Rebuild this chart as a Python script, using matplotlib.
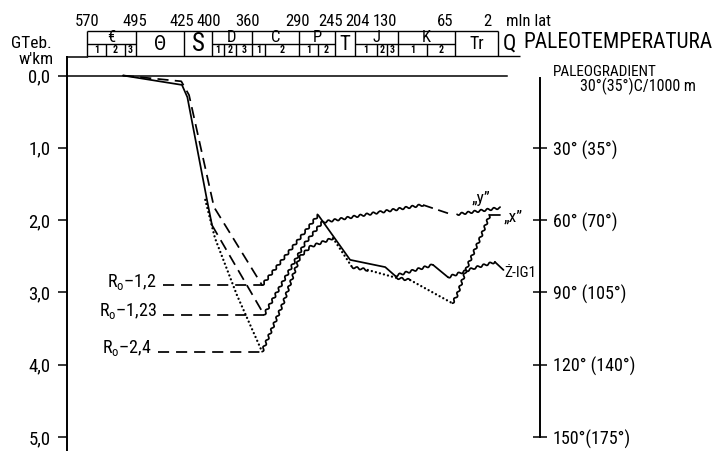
import numpy as np
import matplotlib
matplotlib.use("Agg")
import matplotlib.pyplot as plt
from matplotlib import font_manager as fm
from matplotlib.transforms import blended_transform_factory

# ---------------- data ----------------
boundary_ages = [570, 495, 425, 400, 360, 290, 245, 204, 130, 65, 2, 0]
age_labels = ["570", "495", "425", "400", "360", "290", "245", "204", "130", "65", "2"]
periods = ["€", "Θ", "S", "D", "C", "P", "T", "J", "K", "Tr", "Q"]
epoch_bounds = {
    "€": [570, 541, 512, 495],
    "D": [400, 388, 376, 360],
    "C": [360, 341, 290],
    "P": [290, 266, 245],
    "J": [204, 166, 149, 130],
    "K": [130, 97, 65],
}
depth_ticks = [0, 1, 2, 3, 4, 5]
depth_labels = ["0,0", "1,0", "2,0", "3,0", "4,0", "5,0"]
gradient = 30.0  # degC per km
grad_ticks = [30, 60, 90, 120, 150]
grad_labels = ["30° (35°)", "60° (70°)", "90° (105°)", "120° (140°)", "150°(175°)"]

ro_labels = ["1,2", "1,23", "2,4"]
ro_depth = [2.90, 3.31, 3.82]
ro_age = [345, 342, 345]

# burial (descending) branches: age [Ma], depth [km]
burial_solid_age = [515, 428, 422, 404.5, 400]
burial_solid_km = [0.0, 0.13, 0.30, 1.72, 2.07]
burial_a_age = [515, 429, 420.5, 398, 345]
burial_a_km = [0.0, 0.08, 0.27, 1.82, 2.90]
burial_b_age = [400, 342]
burial_b_km = [2.07, 3.31]
burial_c_age = [406, 397, 375, 345]
burial_c_km = [1.72, 2.25, 3.04, 3.82]

# Z-IG1 curve
z_wavy1_age = [345, 282.5, 266]
z_wavy1_km = [2.90, 2.16, 1.93]
z_solid1_age = [266, 214, 152, 135]
z_solid1_km = [1.93, 2.55, 2.65, 2.77]
z_wavy2_age = [135, 90]
z_wavy2_km = [2.77, 2.62]
z_solid2_age = [90, 73]
z_solid2_km = [2.62, 2.79]
z_wavy3_age = [73, 36, 6.4]
z_wavy3_km = [2.79, 2.66, 2.58]
z_solid3_age = [6.4, 1.5]
z_solid3_km = [2.58, 2.69]

# "y" curve
y_wavy1_age = [342, 282.5, 261, 161, 101.5]
y_wavy1_km = [3.31, 2.32, 2.03, 1.89, 1.79]
y_dash_age = [101.5, 67]
y_dash_km = [1.79, 1.93]
y_wavy2_age = [62, 1.8]
y_wavy2_km = [1.92, 1.83]

# "x" curve
x_wavy1_age = [345, 314, 289, 276, 247.5]
x_wavy1_km = [3.82, 3.16, 2.51, 2.37, 2.25]
x_dot1_age = [247.5, 210]
x_dot1_km = [2.25, 2.65]
x_wavy2_age = [210, 182]
x_wavy2_km = [2.65, 2.69]
x_dot2_age = [182, 132]
x_dot2_km = [2.69, 2.80]
x_wavy3_age = [132, 116]
x_wavy3_km = [2.80, 2.83]
x_dot3_age = [116, 68]
x_dot3_km = [2.83, 3.15]
x_wavy4_age = [68, 62, 46, 28, 14]
x_wavy4_km = [3.15, 3.04, 2.62, 2.25, 1.93]
x_solid_age = [14, 1.8]
x_solid_km = [1.93, 1.93]

# ---------------- layout / style ----------------
W, H = 717, 451
SCALE_AGE = [0, 2, 65, 130, 204, 245, 290, 360, 400, 425, 495, 570, 900]
SCALE_PX = [520, 498, 455, 398, 355, 335, 299, 252, 212, 184, 136, 87, -128.5]
SCALE_D = [520 - p for p in SCALE_PX]
KM0_PY, PX_PER_KM = 75.5, 72.3
AX_L, AX_R, AX_T = 67, 520, 57

names = {f.name for f in fm.fontManager.ttflist}
FONT = next((f for f in ["Liberation Sans Narrow", "Roboto Condensed", "DejaVu Sans"] if f in names), "DejaVu Sans")
plt.rcParams['font.family'] = [FONT, 'DejaVu Sans']
plt.rcParams['mathtext.fontset'] = 'custom'
plt.rcParams['mathtext.rm'] = FONT
plt.rcParams['lines.scale_dashes'] = False

LW = 1.25
K = 'black'


def fwd(a):
    return np.interp(a, SCALE_AGE, SCALE_D)


def inv(d):
    return np.interp(d, SCALE_D, SCALE_AGE)


def age_at_px(p):
    return float(inv(520 - p))


def km_at_py(py):
    return (py - KM0_PY) / PX_PER_KM


def fy(py):
    return 1 - py / H


def fx(px):
    return px / W


fig = plt.figure(figsize=(W / 100, H / 100), dpi=100)
ax = fig.add_axes([fx(AX_L), 0, (AX_R - AX_L) / W, (H - AX_T) / H])
ax.set_xscale('function', functions=(fwd, inv))
ax.set_xlim(age_at_px(AX_L), 0)
ax.set_ylim(km_at_py(H), km_at_py(AX_T))
ax.xaxis.set_major_locator(matplotlib.ticker.NullLocator())
ax.xaxis.set_minor_locator(matplotlib.ticker.NullLocator())
for s in ['right', 'bottom']:
    ax.spines[s].set_visible(False)
ax.spines['left'].set_linewidth(1.4)
ax.spines['top'].set_linewidth(1.1)
ax.spines['top'].set_bounds(570, age_at_px(AX_L))
ax.set_yticks(depth_ticks, labels=depth_labels)
ax.tick_params(axis='y', direction='out', length=6.5, width=1.1, pad=5.5, labelsize=13.5)
ax.patch.set_visible(False)

# zero line
ax.axhline(0, xmin=0, xmax=(507 - AX_L) / (AX_R - AX_L), color=K, lw=1.1)

# secondary (paleogradient) axis
sec = ax.secondary_yaxis((540 - AX_L) / (AX_R - AX_L),
                         functions=(lambda z: z * gradient, lambda t: t / gradient))
sec.set_yticks(grad_ticks, labels=grad_labels)
sec.tick_params(axis='y', direction='inout', length=10, width=1.1, pad=4, labelsize=13)
sec.spines['right'].set_linewidth(1.4)
sec.spines['right'].set_bounds(km_at_py(78) * gradient, grad_ticks[-1])


def line(xs, ys, kind):
    kw = dict(color=K, lw=LW, solid_capstyle='round', solid_joinstyle='round')
    if kind == 'dash':
        kw.update(ls=(0, (8, 4.5)))
    elif kind == 'dash2':
        kw.update(ls=(0, (7.5, 4)))
    elif kind == 'dot':
        kw.update(ls=(0, (0.01, 3.0)), dash_capstyle='round', lw=1.7)
    ln, = ax.plot(xs, ys, **kw)
    ln.set_clip_on(False)
    if kind == 'wavy':
        ln.set_sketch_params(1.1, 6.5, 1.0)
    return ln


line(burial_solid_age, burial_solid_km, 'solid')
line(burial_a_age, burial_a_km, 'dash')
line(burial_b_age, burial_b_km, 'dash')
line(burial_c_age, burial_c_km, 'dot')

line(z_wavy1_age, z_wavy1_km, 'wavy')
line(z_solid1_age, z_solid1_km, 'solid')
line(z_wavy2_age, z_wavy2_km, 'wavy')
line(z_solid2_age, z_solid2_km, 'solid')
line(z_wavy3_age, z_wavy3_km, 'wavy')
line(z_solid3_age, z_solid3_km, 'solid')

line(y_wavy1_age, y_wavy1_km, 'wavy')
line(y_dash_age, y_dash_km, 'dash2')
line(y_wavy2_age, y_wavy2_km, 'wavy')

line(x_wavy1_age, x_wavy1_km, 'wavy')
line(x_dot1_age, x_dot1_km, 'dot')
line(x_wavy2_age, x_wavy2_km, 'wavy')
line(x_dot2_age, x_dot2_km, 'dot')
line(x_wavy3_age, x_wavy3_km, 'wavy')
line(x_dot3_age, x_dot3_km, 'dot')
line(x_wavy4_age, x_wavy4_km, 'wavy')
line(x_solid_age, x_solid_km, 'solid')

# Ro reference lines and labels
ro_start_px = [163, 163, 158]
for lab, d, a, sp in zip(ro_labels, ro_depth, ro_age, ro_start_px):
    ax.plot([age_at_px(sp), a], [d, d], color=K, lw=LW, ls=(0, (8, 5)), clip_on=False)
    ax.text(age_at_px(sp - 6), d + 0.02, "R$_{\\rm o}$–" + lab, ha='right', va='baseline',
            fontsize=13)

# curve labels
fig.text(fx(481), fy(199), "„y”", ha='center', va='center', fontsize=12.5)
fig.text(fx(513), fy(217), "„x”", ha='center', va='center', fontsize=12.5)
fig.text(fx(504), fy(273), "Ż-IG1", ha='left', va='center', fontsize=11)

# top time labels
label_px = [87, 135, 182, 209, 247, 297, 331, 358, 385, 445, 487]
for s, p in zip(age_labels, label_px):
    fig.text(fx(p), fy(21), s, ha='center', va='center', fontsize=12)
fig.text(fx(506), fy(21), "mln lat", ha='left', va='center', fontsize=12)

# stratigraphic column
tr = blended_transform_factory(ax.transData, fig.transFigure)
Y_TOP, Y_MID, Y_BOT = 31, 43.5, 55.5
bkw = dict(color=K, lw=1.0, transform=tr, clip_on=False, solid_capstyle='butt')
for a in boundary_ages[:-1]:
    ax.plot([a, a], [fy(Y_TOP), fy(Y_BOT)], **bkw)
ax.plot([570, 570], [fy(Y_BOT), fy(AX_T)], **bkw)
ax.plot([570, 2], [fy(Y_TOP)] * 2, **bkw)
ax.plot([570, 0], [fy(Y_BOT)] * 2, **bkw)


def mid(a0, a1):
    return float(inv((fwd(a0) + fwd(a1)) / 2))


big_sizes = {"Θ": 15, "S": 18, "T": 15, "Tr": 13, "Q": 16}
for p, a0, a1 in zip(periods, boundary_ages[:-1], boundary_ages[1:]):
    if p in epoch_bounds:
        b = epoch_bounds[p]
        ax.plot([b[0], b[-1]], [fy(Y_MID)] * 2, **bkw)
        for a in b[1:-1]:
            ax.plot([a, a], [fy(Y_MID), fy(Y_BOT)], **bkw)
        for i, (e0, e1) in enumerate(zip(b[:-1], b[1:])):
            ax.text(mid(e0, e1), fy((Y_MID + Y_BOT) / 2 + 0.5), str(i + 1), transform=tr,
                    ha='center', va='center', fontsize=7, fontweight='bold')
        ax.text(mid(a0, a1), fy((Y_TOP + Y_MID) / 2 + 0.5), p, transform=tr,
                ha='center', va='center', fontsize=12)
    else:
        ax.text(mid(a0, a1), fy((Y_TOP + Y_BOT) / 2 + 1), p, transform=tr,
                ha='center', va='center', fontsize=big_sizes.get(p, 14))

# headings
fig.text(fx(523), fy(42), "PALEOTEMPERATURA", ha='left', va='center', fontsize=15.5)
fig.text(fx(553), fy(72), "PALEOGRADIENT", ha='left', va='center', fontsize=11)
fig.text(fx(580), fy(86), "30°(35°)C/1000 m", ha='left', va='center', fontsize=11.5)
fig.text(fx(31), fy(43), "GTeb.", ha='center', va='center', fontsize=12.5)
fig.text(fx(36), fy(60), "w'km", ha='center', va='center', fontsize=12.5)

fig.savefig("out.png", dpi=100)
